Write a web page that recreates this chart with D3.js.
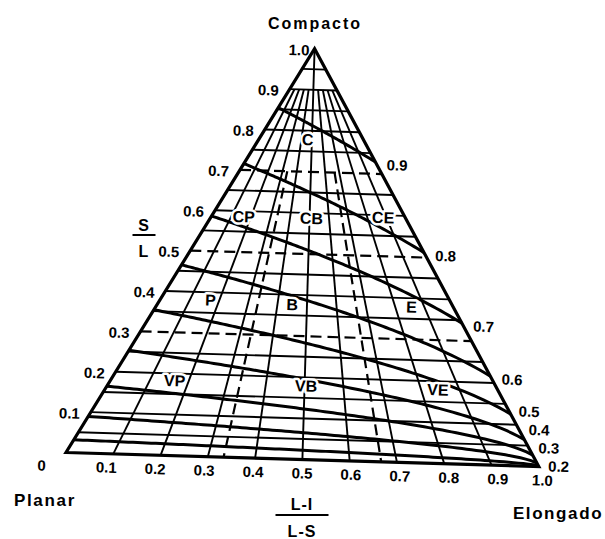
<!DOCTYPE html>
<html>
<head>
<meta charset="utf-8">
<script src="https://cdn.jsdelivr.net/npm/d3@7"></script>
<style>
  body { margin: 0; background: #fff; }
  text { font-family: "Liberation Sans", Arial, sans-serif; font-weight: bold; fill: #000; }
</style>
</head>
<body>
<svg id="chart" width="605" height="539"></svg>
<script>
// S/L tick labels on the left edge
const slTicks = [0.1, 0.2, 0.3, 0.4, 0.5, 0.6, 0.7, 0.8, 0.9, 1.0];
// (L-I)/(L-S) tick labels along the base
const ratioTicks = [0, 0.1, 0.2, 0.3, 0.4, 0.5, 0.6, 0.7, 0.8, 0.9, 1.0];
// thin horizontal S/L grid (class limits are drawn dashed instead)
const slGrid = [0.05, 0.1, 0.15, 0.2, 0.25, 0.35, 0.4, 0.45, 0.55, 0.6, 0.65, 0.75, 0.8, 0.85, 0.9, 0.95];
// radial (L-I)/(L-S) grid lines and the S/L where each one starts
const ratioGrid = [0.1, 0.2, 0.3, 0.4, 0.5, 0.6, 0.7, 0.8, 0.9];
const ratioGridTop = [0.9, 0.9, 0.9, 0.9, 1.0, 0.9, 0.9, 0.9, 0.9];
// class boundaries
const slLimits = [0.3, 0.5, 0.7];
const ratioLimits = [1 / 3, 2 / 3];
const ratioLimitTop = 0.7;
// maximum projection sphericity isolines
const sphericity = [0.1, 0.2, 0.3, 0.4, 0.5, 0.6, 0.7, 0.8, 0.9];
const sphericityLabels = [0.9, 0.8, 0.7, 0.6, 0.5, 0.4, 0.3, 0.2];
// shape classes: name, (L-I)/(L-S), S/L
const classNames = ["C", "CP", "CB", "CE", "P", "B", "E", "VP", "VB", "VE"];
const classRatio = [0.46, 0.166, 0.51, 0.88, 0.172, 0.45, 0.854, 0.165, 0.504, 0.842];
const classSL = [0.775, 0.583, 0.584, 0.591, 0.378, 0.373, 0.375, 0.179, 0.176, 0.176];

const W = 473, H = 411, TILT = 1.7;
const svg = d3.select("#chart");
const g = svg.append("g").attr("transform", `translate(66,452.5) rotate(${TILT})`);

const sy = d3.scaleLinear().domain([0, 1]).range([0, -H]);
const tx = d3.scaleLinear().domain([0, 1]).range([0, W]);
const pt = (t, s) => [tx(t) * (1 - s) + (W / 2) * s, sy(s)];
const line = d3.line();

// horizontal grid
g.selectAll(".sl-grid")
  .data(slGrid)
  .enter()
  .append("path")
  .attr("d", s => line([pt(0, s), pt(1, s)]))
  .attr("stroke", "#000")
  .attr("stroke-width", 1.9)
  .attr("fill", "none");

// radial grid
g.selectAll(".ratio-grid")
  .data(ratioGrid)
  .enter()
  .append("path")
  .attr("d", (t, i) => line([pt(t, ratioGridTop[i]), pt(t, 0)]))
  .attr("stroke", "#000")
  .attr("stroke-width", 1.9)
  .attr("fill", "none");

// dashed class limits
g.selectAll(".sl-limit")
  .data(slLimits)
  .enter()
  .append("path")
  .attr("d", s => line([pt(0, s), pt(1, s)]))
  .attr("stroke", "#000")
  .attr("stroke-width", 2.2)
  .attr("stroke-dasharray", "11,6")
  .attr("fill", "none");

g.selectAll(".ratio-limit")
  .data(ratioLimits)
  .enter()
  .append("path")
  .attr("d", t => line([pt(t, ratioLimitTop), pt(t, 0)]))
  .attr("stroke", "#000")
  .attr("stroke-width", 2.2)
  .attr("stroke-dasharray", "11,6")
  .attr("fill", "none");

// sphericity isolines: psi^3 = s^2 / (1 - t(1 - s))
const isoS = (psi, t) => {
  const k = psi * psi * psi;
  return (k * t + Math.sqrt(k * k * t * t + 4 * k * (1 - t))) / 2;
};
const tSteps = d3.range(0, 101).map(i => i / 100);

g.selectAll(".sphericity")
  .data(sphericity)
  .enter()
  .append("path")
  .attr("d", psi => line(tSteps.map(t => pt(t, isoS(psi, t)))))
  .attr("stroke", "#000")
  .attr("stroke-width", 3)
  .attr("fill", "none");

// outline
g.append("path")
  .attr("d", line([pt(0, 0), pt(1, 0), pt(0, 1)]) + "Z")
  .attr("stroke", "#000")
  .attr("stroke-width", 3.2)
  .attr("stroke-linejoin", "miter")
  .attr("fill", "none");

// left S/L labels
g.selectAll(".sl-label")
  .data(slTicks)
  .enter()
  .append("text")
  .attr("x", s => pt(0, s)[0] - (s === 1 ? 5 : 11))
  .attr("y", s => pt(0, s)[1] + 3)
  .attr("text-anchor", "end")
  .attr("dominant-baseline", "middle")
  .attr("font-size", "15px")
  .text(s => s === 1 ? "1.0" : s.toFixed(1));

// base labels
g.selectAll(".ratio-label")
  .data(ratioTicks)
  .enter()
  .append("text")
  .attr("x", t => t === 0 ? -24 : (t === 1 ? W + 4 : W / 2 + (tx(t) - W / 2) * 1.035))
  .attr("y", 15)
  .attr("text-anchor", "middle")
  .attr("dominant-baseline", "middle")
  .attr("font-size", "15px")
  .text(t => t === 0 ? "0" : t.toFixed(1));

// right sphericity labels, pushed apart near the elongate corner
const labelPos = sphericityLabels
  .map(psi => ({ psi, y: pt(1, psi * psi * psi)[1] + 4 }))
  .sort((a, b) => b.y - a.y);
labelPos.forEach((d, i) => {
  if (i > 0) d.y = Math.min(d.y, labelPos[i - 1].y - 18);
  d.x = W - (-d.y / H) * (W / 2) + 9;
});

g.selectAll(".psi-label")
  .data(labelPos)
  .enter()
  .append("text")
  .attr("x", d => d.x)
  .attr("y", d => d.y)
  .attr("dominant-baseline", "middle")
  .attr("font-size", "15px")
  .text(d => d.psi.toFixed(1));

// class names with white knockout
g.selectAll(".class-label")
  .data(classNames)
  .enter()
  .append("text")
  .attr("x", (d, i) => pt(classRatio[i], classSL[i])[0])
  .attr("y", (d, i) => pt(classRatio[i], classSL[i])[1])
  .attr("text-anchor", "middle")
  .attr("dominant-baseline", "middle")
  .attr("font-size", "16px")
  .attr("stroke", "#fff")
  .attr("stroke-width", 5)
  .attr("paint-order", "stroke")
  .attr("stroke-linejoin", "round")
  .text(d => d);

// corner titles
svg.append("text")
  .attr("x", 315).attr("y", 29)
  .attr("text-anchor", "middle")
  .attr("font-size", "16px")
  .attr("letter-spacing", "2px")
  .text("Compacto");

svg.append("text")
  .attr("x", 45).attr("y", 506)
  .attr("text-anchor", "middle")
  .attr("font-size", "17px")
  .attr("letter-spacing", "1.7px")
  .text("Planar");

svg.append("text")
  .attr("x", 558).attr("y", 519)
  .attr("text-anchor", "middle")
  .attr("font-size", "17px")
  .attr("letter-spacing", "1.6px")
  .text("Elongado");

// axis fractions
const frac = (x, yTop, yBar, yBot, top, bottom, barW) => {
  svg.append("text").attr("x", x).attr("y", yTop)
    .attr("text-anchor", "middle").attr("font-size", "16px").attr("letter-spacing", "1px").text(top);
  svg.append("line")
    .attr("x1", x - barW / 2).attr("x2", x + barW / 2)
    .attr("y1", yBar).attr("y2", yBar)
    .attr("stroke", "#000").attr("stroke-width", 2);
  svg.append("text").attr("x", x).attr("y", yBot)
    .attr("text-anchor", "middle").attr("font-size", "16px").attr("letter-spacing", "1px").text(bottom);
};
frac(144, 231, 235, 257, "S", "L", 23);
frac(302, 510, 515, 537, "L-I", "L-S", 53);
</script>
</body>
</html>
